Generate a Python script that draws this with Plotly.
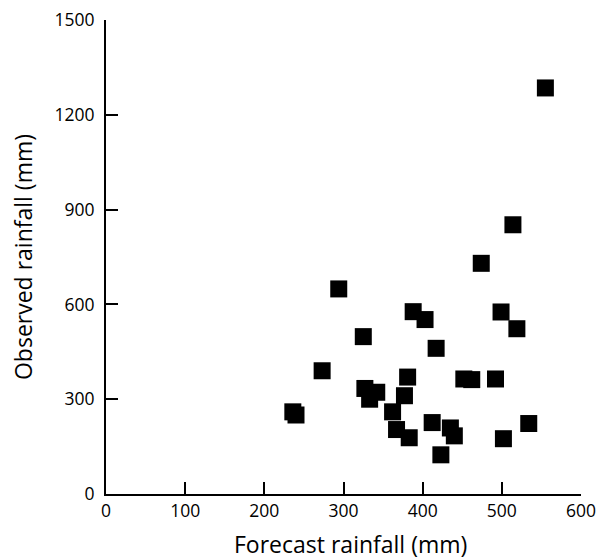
import plotly.graph_objects as go

forecast = [555, 514, 474, 294, 388, 403, 325, 499, 519, 417, 273, 381, 452, 462, 492,
            327, 342, 333, 377, 362, 236, 240, 367, 383, 412, 435, 440, 423, 502, 534]
observed = [1285, 852, 730, 649, 577, 552, 498, 576, 523, 461, 390, 370, 364, 362, 364,
            334, 322, 300, 311, 260, 260, 250, 204, 178, 226, 209, 184, 124, 175, 223]

x_ticks = [0, 100, 200, 300, 400, 500, 600]
y_ticks = [0, 300, 600, 900, 1200, 1500]
x_title = "Forecast rainfall (mm)"
y_title = "Observed rainfall (mm)"

FONT = "Open Sans"

fig = go.Figure(go.Scatter(
    x=forecast, y=observed, mode="markers",
    marker=dict(symbol="square", size=17, color="black", line=dict(width=0)),
    cliponaxis=False, showlegend=False,
))

axis_common = dict(
    showline=True, linecolor="black", linewidth=2,
    ticks="inside", ticklen=12, tickwidth=2, tickcolor="black",
    showgrid=False, zeroline=False, mirror=False, automargin=False,
    ticklabeloverflow="allow",
    tickfont=dict(family=FONT, size=17.5, color="black"),
)

fig.update_xaxes(range=[0, 600], tickvals=x_ticks, ticktext=[str(v) for v in x_ticks],
                 **axis_common)
fig.update_yaxes(range=[0, 1500], tickvals=y_ticks, ticktext=[str(v) for v in y_ticks],
                 ticklabelstandoff=6, **axis_common)

fig.add_annotation(text=x_title, xref="paper", yref="paper", x=0.5147, y=-0.1065,
                   xanchor="center", yanchor="middle", showarrow=False,
                   font=dict(family=FONT, size=23, color="black"))
fig.add_annotation(text=y_title, xref="paper", yref="paper", x=-0.1747, y=0.5,
                   xanchor="center", yanchor="middle", textangle=-90, showarrow=False,
                   font=dict(family=FONT, size=23, color="black"))

# page body adds an 8px offset, so the figure is shifted back by that amount
fig.update_layout(
    width=599, height=552,
    margin=dict(l=98, r=26, t=12, b=66, pad=0),
    plot_bgcolor="white", paper_bgcolor="white",
)

fig.write_html("out.html")
